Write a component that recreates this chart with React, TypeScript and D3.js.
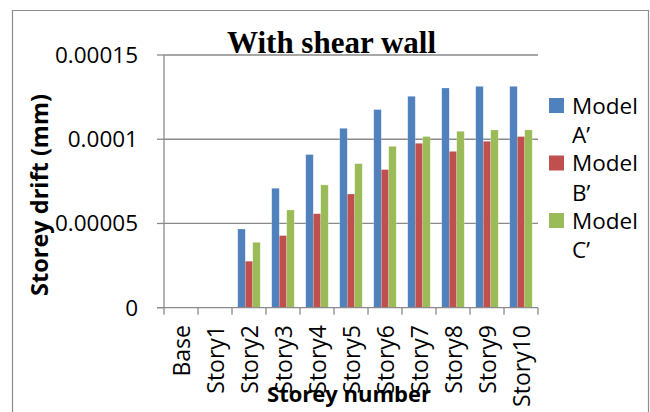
import React, { useEffect, useRef } from "react";
import * as d3 from "d3";

const categories = ["Base", "Story1", "Story2", "Story3", "Story4", "Story5", "Story6", "Story7", "Story8", "Story9", "Story10"];
const seriesNames = ["Model A’", "Model B’", "Model C’"];
const modelA = [0, 0, 0.0000467, 0.0000709, 0.0000909, 0.0001065, 0.0001176, 0.0001255, 0.0001304, 0.0001314, 0.0001314];
const modelB = [0, 0, 0.0000276, 0.0000428, 0.0000558, 0.0000675, 0.000082, 0.0000976, 0.0000928, 0.0000988, 0.0001016];
const modelC = [0, 0, 0.0000388, 0.000058, 0.0000729, 0.0000855, 0.0000958, 0.0001016, 0.0001047, 0.0001055, 0.0001055];
const yTicks = [0, 0.00005, 0.0001, 0.00015];
const yTickLabels = ["0", "0.00005", "0.0001", "0.00015"];
const colors = ["#4F81BD", "#C0504D", "#9BBB59"];

const W = 650;
const H = 412;
const SANS = "'Open Sans', sans-serif";

export default function App() {
  const ref = useRef<SVGSVGElement>(null);

  useEffect(() => {
    const svg = d3.select(ref.current);
    svg.selectAll("*").remove();

    const x0 = 164, x1 = 538;
    const yBottom = 307.7, yTop = 55;

    const x = d3.scaleBand<string>().domain(categories).range([x0, x1]).padding(0);
    const xi = d3.scaleBand<string>().domain(seriesNames).range([0, x.bandwidth()]).paddingInner(0).paddingOuter(0.77);
    const y = d3.scaleLinear().domain([0, 0.00015]).range([yBottom, yTop]);

    // outer frame
    svg.append("path")
      .attr("d", `M12.5,${H + 2} V10.5 H648.5 V${H + 2}`)
      .attr("fill", "none")
      .attr("stroke", "#8c8c8c")
      .attr("stroke-width", 1.2);

    // gridlines
    svg.append("g").selectAll("line")
      .data(yTicks.filter((t) => t > 0))
      .join("line")
      .attr("x1", x0).attr("x2", x1)
      .attr("y1", (d) => y(d)).attr("y2", (d) => y(d))
      .attr("stroke", "#8a8a8a").attr("stroke-width", 1.3);

    // bars
    const all = [modelA, modelB, modelC];
    all.forEach((vals, si) => {
      svg.append("g").selectAll("rect")
        .data(vals.map((v, i) => ({ v, c: categories[i] })).filter((d) => d.v > 0))
        .join("rect")
        .attr("x", (d) => (x(d.c) as number) + (xi(seriesNames[si]) as number))
        .attr("y", (d) => y(d.v))
        .attr("width", xi.bandwidth())
        .attr("height", (d) => yBottom - y(d.v))
        .attr("fill", colors[si])
        .attr("stroke", "#ffffff")
        .attr("stroke-opacity", 0.35)
        .attr("stroke-width", 0.6);
    });

    // y axis
    svg.append("line")
      .attr("x1", x0).attr("x2", x0).attr("y1", yTop).attr("y2", yBottom)
      .attr("stroke", "#8a8a8a").attr("stroke-width", 1.3);
    svg.append("g").selectAll("line")
      .data(yTicks)
      .join("line")
      .attr("x1", x0 - 7).attr("x2", x0)
      .attr("y1", (d) => y(d)).attr("y2", (d) => y(d))
      .attr("stroke", "#8a8a8a").attr("stroke-width", 1.3);
    svg.append("g").selectAll("text")
      .data(yTicks)
      .join("text")
      .attr("x", 138)
      .attr("y", (d) => y(d))
      .attr("dy", "0.35em")
      .attr("text-anchor", "end")
      .attr("font-family", SANS)
      .attr("font-size", 22.5)
      .attr("fill", "#000")
      .text((d, i) => yTickLabels[i]);

    // x axis
    svg.append("line")
      .attr("x1", x0 - 7).attr("x2", x1).attr("y1", yBottom).attr("y2", yBottom)
      .attr("stroke", "#8a8a8a").attr("stroke-width", 1.3);
    const bounds = categories.map((c) => x(c) as number).concat([x1]);
    svg.append("g").selectAll("line")
      .data(bounds)
      .join("line")
      .attr("x1", (d) => d).attr("x2", (d) => d)
      .attr("y1", yBottom).attr("y2", yBottom + 7)
      .attr("stroke", "#8a8a8a").attr("stroke-width", 1.3);
    svg.append("g").selectAll("text")
      .data(categories)
      .join("text")
      .attr("transform", (d) => `translate(${(x(d) as number) + x.bandwidth() / 2 + 9},325) rotate(-90)`)
      .attr("text-anchor", "end")
      .attr("font-family", SANS)
      .attr("font-size", 23)
      .attr("fill", "#000")
      .text((d) => d);

    // title
    svg.append("text")
      .attr("x", 331.5).attr("y", 53)
      .attr("text-anchor", "middle")
      .attr("font-family", "'Liberation Serif', 'Times New Roman', serif")
      .attr("font-weight", "bold")
      .attr("font-size", 31)
      .attr("fill", "#000")
      .text("With shear wall");

    // axis titles
    svg.append("text")
      .attr("transform", "translate(48,195) rotate(-90)")
      .attr("text-anchor", "middle")
      .attr("font-family", SANS)
      .attr("font-weight", "bold")
      .attr("font-size", 23.5)
      .attr("fill", "#000")
      .text("Storey drift (mm)");
    svg.append("text")
      .attr("x", 349).attr("y", 402)
      .attr("text-anchor", "middle")
      .attr("font-family", SANS)
      .attr("font-weight", "bold")
      .attr("font-size", 22)
      .attr("fill", "#000")
      .text("Storey number");

    // legend
    const leg = svg.append("g");
    seriesNames.forEach((name, i) => {
      const top = 98 + i * 57.5;
      leg.append("rect")
        .attr("x", 549).attr("y", top)
        .attr("width", 15).attr("height", 15)
        .attr("fill", colors[i]);
      const parts = name.split(" ");
      leg.append("text")
        .attr("x", 572).attr("y", top + 15.5)
        .attr("font-family", SANS).attr("font-size", 22.5).attr("fill", "#000")
        .text(parts[0]);
      leg.append("text")
        .attr("x", 572).attr("y", top + 45)
        .attr("font-family", SANS).attr("font-size", 22.5).attr("fill", "#000")
        .text(parts[1]);
    });
  }, []);

  return (
    <svg ref={ref} width={W} height={H} style={{ position: "absolute", left: 0, top: 0, background: "#fff" }} />
  );
}
